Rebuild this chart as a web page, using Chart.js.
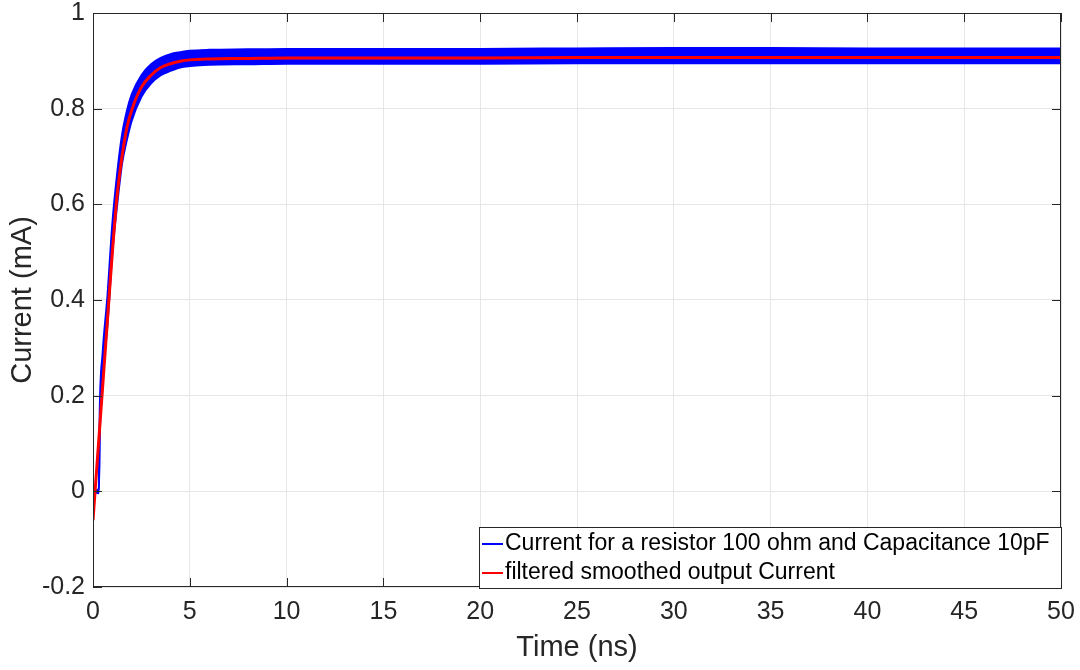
<!DOCTYPE html>
<html>
<head>
<meta charset="utf-8">
<script src="https://cdn.jsdelivr.net/npm/chart.js@4"></script>
<style>
  html, body { margin: 0; padding: 0; background: #fff; }
  #wrap { width: 1080px; height: 670px; }
</style>
</head>
<body>
<div id="wrap"><canvas id="chart" width="1080" height="670"></canvas></div>
<script>
const timeNs = [0, 0.3, 0.35, 0.5, 0.75, 1, 1.25, 1.5, 1.75, 2, 2.5, 3, 3.5, 4, 4.5, 5, 6, 8, 10, 15, 20, 25, 30, 35, 40, 45, 50];

// noisy raw current: upper and lower edge of the blue band (mA)
const rawUpper = [0, 0.005, 0.17, 0.29, 0.41, 0.56, 0.665, 0.745, 0.795, 0.83, 0.87, 0.893, 0.906, 0.914, 0.918, 0.921, 0.923, 0.924, 0.925, 0.925, 0.925, 0.926, 0.927, 0.927, 0.926, 0.926, 0.926];
const rawLower = [0, -0.004, 0.12, 0.24, 0.35, 0.5, 0.6, 0.685, 0.735, 0.775, 0.825, 0.853, 0.87, 0.879, 0.886, 0.889, 0.892, 0.893, 0.894, 0.894, 0.894, 0.895, 0.895, 0.895, 0.895, 0.895, 0.895];

// filtered current, starts at t = 0
const smoothTime = [0, 0.25, 0.5, 0.75, 1, 1.25, 1.5, 1.75, 2, 2.5, 3, 3.5, 4, 4.5, 5, 6, 8, 10, 15, 20, 25, 30, 35, 40, 45, 50];
const smoothCurrent = [-0.06, 0.08, 0.22, 0.36, 0.5, 0.62, 0.7, 0.76, 0.797, 0.845, 0.87, 0.886, 0.894, 0.899, 0.902, 0.904, 0.905, 0.906, 0.906, 0.906, 0.907, 0.907, 0.907, 0.907, 0.907, 0.907];

const xTicks = [0, 5, 10, 15, 20, 25, 30, 35, 40, 45, 50];
const yTicks = [-0.2, 0, 0.2, 0.4, 0.6, 0.8, 1];
const legendLabels = ['Current for a resistor 100 ohm and Capacitance 10pF', 'filtered smoothed output Current'];

const FONT = '"Liberation Sans", Arial, Helvetica, sans-serif';
const INK = '#262626';

const pts = (xs, ys) => xs.map((x, i) => ({ x: x, y: ys[i] }));

// MATLAB-like box with inward ticks on all four sides
const boxPlugin = {
  id: 'box',
  afterDatasetsDraw(chart) {
    const { ctx, chartArea: a, scales } = chart;
    ctx.save();
    ctx.strokeStyle = INK;
    ctx.lineWidth = 1;
    ctx.strokeRect(a.left + 0.5, a.top + 0.5, a.right - a.left - 1, a.bottom - a.top - 1);
    const len = 9;
    ctx.beginPath();
    xTicks.forEach(v => {
      const px = Math.round(scales.x.getPixelForValue(v)) + 0.5;
      ctx.moveTo(px, a.bottom); ctx.lineTo(px, a.bottom - len);
      ctx.moveTo(px, a.top); ctx.lineTo(px, a.top + len);
    });
    yTicks.forEach(v => {
      const py = Math.round(scales.y.getPixelForValue(v)) + 0.5;
      ctx.moveTo(a.left, py); ctx.lineTo(a.left + len, py);
      ctx.moveTo(a.right, py); ctx.lineTo(a.right - len, py);
    });
    ctx.stroke();
    ctx.restore();
  },
  afterDraw(chart) {
    // legend box in the lower right corner
    const { ctx, chartArea: a } = chart;
    const colors = ['#0000ff', '#ff0000'];
    const x0 = 479, y0 = 527, w = a.right + 1 - 479, h = 62;
    ctx.save();
    ctx.fillStyle = '#fff';
    ctx.fillRect(x0, y0, w, h);
    ctx.strokeStyle = INK;
    ctx.lineWidth = 1;
    ctx.strokeRect(x0 + 0.5, y0 + 0.5, w - 1, h - 1);
    ctx.font = '23px ' + FONT;
    ctx.textBaseline = 'middle';
    legendLabels.forEach((lab, i) => {
      const cy = y0 + 17 + i * 29;
      ctx.strokeStyle = colors[i];
      ctx.lineWidth = 2;
      ctx.beginPath();
      ctx.moveTo(x0 + 3, cy); ctx.lineTo(x0 + 24, cy);
      ctx.stroke();
      ctx.fillStyle = '#000';
      ctx.fillText(lab, x0 + 26, cy);
    });
    ctx.restore();
  }
};

new Chart(document.getElementById('chart'), {
  type: 'line',
  data: {
    datasets: [
      {
        label: legendLabels[0],
        data: pts(timeNs, rawUpper),
        borderColor: '#0000ff',
        backgroundColor: '#0000ff',
        borderWidth: 2,
        fill: '+1',
        order: 1,
        cubicInterpolationMode: 'monotone'
      },
      {
        label: 'lower',
        data: pts(timeNs, rawLower),
        borderColor: '#0000ff',
        borderWidth: 2,
        fill: false,
        order: 1,
        cubicInterpolationMode: 'monotone'
      },
      {
        label: legendLabels[1],
        data: pts(smoothTime, smoothCurrent),
        borderColor: '#ff0000',
        borderWidth: 3,
        fill: false,
        order: 0,
        cubicInterpolationMode: 'monotone'
      }
    ]
  },
  options: {
    responsive: false,
    animation: false,
    events: [],
    layout: { padding: { left: 0, right: 19, top: 13, bottom: 0 } },
    elements: { point: { radius: 0 } },
    plugins: {
      legend: { display: false },
      tooltip: { enabled: false }
    },
    scales: {
      x: {
        type: 'linear',
        min: 0,
        max: 50,
        afterBuildTicks: s => { s.ticks = xTicks.map(v => ({ value: v })); },
        afterFit: s => { s.height = 83; s.paddingLeft = 0; s.paddingRight = 0; },
        grid: { color: '#e6e6e6', drawTicks: false },
        border: { display: false },
        ticks: { color: INK, font: { family: FONT, size: 25 }, padding: 10, maxRotation: 0 },
        title: { display: true, text: 'Time (ns)', color: INK, font: { family: FONT, size: 29 }, padding: { top: 0, bottom: 5 } }
      },
      y: {
        min: -0.2,
        max: 1,
        afterBuildTicks: s => { s.ticks = yTicks.map(v => ({ value: v })); },
        afterFit: s => { s.width = 93; s.paddingTop = 0; s.paddingBottom = 0; },
        grid: { color: '#e6e6e6', drawTicks: false },
        border: { display: false },
        ticks: { color: INK, font: { family: FONT, size: 25 }, padding: 8, callback: v => String(Math.round(v * 10) / 10) },
        title: { display: true, text: 'Current (mA)', color: INK, font: { family: FONT, size: 29 }, padding: { top: 6, bottom: 0 } }
      }
    }
  },
  plugins: [boxPlugin]
});
</script>
</body>
</html>
